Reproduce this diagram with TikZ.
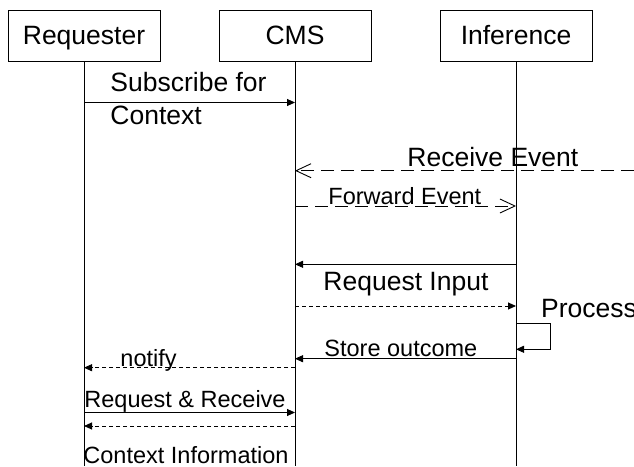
\documentclass[tikz,border=0pt]{standalone}
\usepackage{fontspec}
\setmainfont{Liberation Sans}
\usetikzlibrary{arrows.meta}

\begin{document}
\begin{tikzpicture}[x=1pt,y=-1pt,line width=0.9pt,
    actor/.style={draw,minimum width=152pt,minimum height=51pt,inner sep=0pt,
      font=\fontsize{26.5}{32}\selectfont,text height=18pt,text depth=0pt},
    big/.style={font=\fontsize{26.5}{32}\selectfont,inner sep=0pt,anchor=base west},
    small/.style={font=\fontsize{23.5}{28}\selectfont,inner sep=0pt,anchor=base west},
    call/.style={-{Triangle[length=8pt,width=7pt]}},
    reply/.style={call,dash pattern=on 4pt off 3pt},
    event/.style={-{Straight Barb[length=15pt,width=14pt]},dash pattern=on 13pt off 7pt}]
  \useasboundingbox (0,0) rectangle (634,466);

  % heads and lifelines
  \node[actor] (req) at (84,35.5) {Requester};
  \node[actor] (cms) at (295,35.5) {CMS};
  \node[actor] (inf) at (516,35.5) {Inference};
  \coordinate (req end) at (84,466);
  \coordinate (cms end) at (295,466);
  \coordinate (inf end) at (516,466);
  \draw (req) -- (req end);
  \draw (cms) -- (cms end);
  \draw (inf) -- (inf end);

  % points on the lifelines
  \coordinate (r1) at (84,102.5);   \coordinate (c1) at (295,102.5);
  \coordinate (src) at (634,170.7); \coordinate (c2) at (295,170.7);
  \coordinate (c3) at (295,206);    \coordinate (i3) at (516,206);
  \coordinate (i4) at (516,264.3);  \coordinate (c4) at (295,264.3);
  \coordinate (c5) at (295,306);    \coordinate (i5) at (516,306);
  \coordinate (i6) at (516,323.3);  \coordinate (i7) at (516,349.3);
  \coordinate (i8) at (516,358.7);  \coordinate (c8) at (295,358.7);
  \coordinate (c9) at (295,367.7);  \coordinate (r9) at (84,367.7);
  \coordinate (r10) at (84,412.5);  \coordinate (c10) at (295,412.5);
  \coordinate (c11) at (295,426);   \coordinate (r11) at (84,426);

  % messages
  \draw[call] (r1) -- (c1);
  \draw[event] (src) -- (c2);
  \draw[event] (c3) -- (i3);
  \draw[call] (i4) -- (c4);
  \draw[reply] (c5) -- (i5);
  \draw[call] (i6) -- ++(34,0) |- (i7);
  \draw[call] (i8) -- (c8);
  \draw[reply] (c9) -- (r9);
  \draw[call] (r10) -- (c10);
  \draw[reply] (c11) -- (r11);

  % labels
  \node[big] (subscribe) at (110,91.7) {Subscribe for};
  \node[big] (context) at (110,124) {Context};
  \node[big] (receive) at (407,166.7) {Receive Event};
  \node[small] (forward) at (328,204) {Forward Event};
  \node[big] (input) at (323,290.7) {Request Input};
  \node[big] (process) at (540.7,317.3) {Process};
  \node[small] (store) at (324,356) {Store outcome};
  \node[small] (notify) at (120,366.5) {notify};
  \node[small] (reqrec) at (84,407.5) {Request \& Receive};
  \node[small] (info) at (83,463) {Context Information};
\end{tikzpicture}
\end{document}
